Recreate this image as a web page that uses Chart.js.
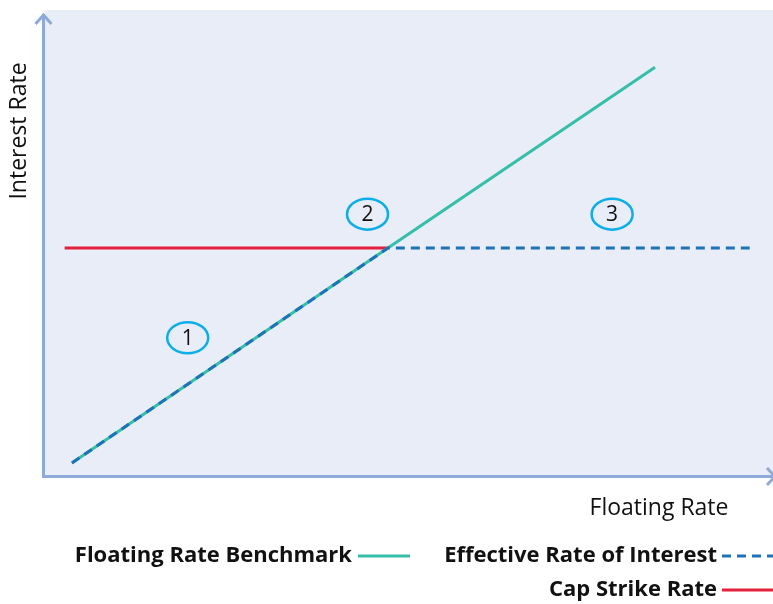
<!DOCTYPE html>
<html>
<head>
<meta charset="utf-8">
<script src="https://cdn.jsdelivr.net/npm/chart.js@4"></script>
<style>
  html, body { margin: 0; padding: 0; background: #ffffff; }
  #wrap { width: 773px; height: 604px; position: relative; }
</style>
</head>
<body>
<div id="wrap"><canvas id="c" width="773" height="604"></canvas></div>
<script>
// Floating rate (x) and interest rate (y), in arbitrary units 0..10
const benchmarkX = [0.37, 4.71, 8.38];
const benchmarkY = [0.26, 4.88, 8.77];
const effectiveX = [0.37, 4.71, 9.68];
const effectiveY = [0.26, 4.88, 4.88];
const capX = [0.27, 4.71];
const capY = [4.88, 4.88];

// Numbered region markers
const regionLabels = ['1', '2', '3'];
const regionX = [1.96, 4.43, 7.79];
const regionY = [2.95, 5.61, 5.61];

const seriesNames = ['Floating Rate Benchmark', 'Effective Rate of Interest', 'Cap Strike Rate'];
const xTitle = 'Floating Rate';
const yTitle = 'Interest Rate';

const TEAL = '#35bfa9';
const BLUE = '#1d72b8';
const RED = '#e5203b';
const AXIS = '#8eaadb';
const BG = '#e9edf7';
const FONT = '"Open Sans", "Noto Sans", sans-serif';

const pts = (xs, ys) => xs.map((x, i) => ({ x, y: ys[i] }));

const decor = {
  id: 'decor',
  beforeDraw(chart) {
    const { ctx, chartArea: a } = chart;
    ctx.save();
    ctx.fillStyle = BG;
    ctx.fillRect(a.left, a.top, a.right - a.left, a.bottom - a.top);
    ctx.restore();
  },
  afterDatasetsDraw(chart) {
    const { ctx, chartArea: a, scales } = chart;
    ctx.save();
    // axes with arrow heads
    ctx.strokeStyle = AXIS;
    ctx.lineWidth = 3;
    ctx.lineCap = 'butt';
    ctx.beginPath();
    ctx.moveTo(a.left - 1.5, a.bottom + 1.5);
    ctx.lineTo(a.left - 1.5, 14);
    ctx.moveTo(a.left - 3, a.bottom + 1.5);
    ctx.lineTo(a.right, a.bottom + 1.5);
    ctx.stroke();
    ctx.lineJoin = 'miter';
    ctx.beginPath();
    ctx.moveTo(a.left - 9.5, 24);
    ctx.lineTo(a.left - 1.5, 15);
    ctx.lineTo(a.left + 6.5, 24);
    ctx.stroke();
    ctx.beginPath();
    ctx.moveTo(a.right - 6, a.bottom - 7);
    ctx.lineTo(a.right + 2, a.bottom + 1.5);
    ctx.lineTo(a.right - 6, a.bottom + 10);
    ctx.stroke();

    // region markers
    ctx.textAlign = 'center';
    ctx.textBaseline = 'middle';
    regionLabels.forEach((t, i) => {
      const cx = scales.x.getPixelForValue(regionX[i]);
      const cy = scales.y.getPixelForValue(regionY[i]);
      ctx.beginPath();
      ctx.ellipse(cx, cy, 20.5, 15.5, 0, 0, Math.PI * 2);
      ctx.strokeStyle = '#0aaeea';
      ctx.lineWidth = 2.5;
      ctx.stroke();
      ctx.fillStyle = '#111111';
      ctx.font = '21px ' + FONT;
      ctx.fillText(t, cx, cy + 1);
    });

    // axis titles
    ctx.fillStyle = '#111111';
    ctx.font = '23px ' + FONT;
    ctx.textAlign = 'center';
    ctx.fillText(xTitle, 659, 508, 150);
    ctx.save();
    ctx.translate(19, 131);
    ctx.rotate(-Math.PI / 2);
    ctx.fillText(yTitle, 0, 0, 140);
    ctx.restore();

    // legend
    ctx.font = 'bold 22px ' + FONT;
    ctx.textAlign = 'right';
    ctx.fillText(seriesNames[0], 352, 556, 281);
    ctx.fillText(seriesNames[1], 717, 556, 281);
    ctx.fillText(seriesNames[2], 717, 590, 173);
    ctx.lineWidth = 3;
    ctx.strokeStyle = TEAL;
    ctx.beginPath(); ctx.moveTo(358, 556); ctx.lineTo(410, 556); ctx.stroke();
    ctx.strokeStyle = RED;
    ctx.beginPath(); ctx.moveTo(722, 590); ctx.lineTo(773, 590); ctx.stroke();
    ctx.strokeStyle = BLUE;
    ctx.setLineDash([9, 6]);
    ctx.beginPath(); ctx.moveTo(722, 556); ctx.lineTo(773, 556); ctx.stroke();
    ctx.restore();
  }
};

new Chart(document.getElementById('c'), {
  type: 'scatter',
  data: {
    datasets: [
      { label: seriesNames[2], data: pts(capX, capY), showLine: true, borderColor: RED, borderWidth: 3, pointRadius: 0, order: 3 },
      { label: seriesNames[0], data: pts(benchmarkX, benchmarkY), showLine: true, borderColor: TEAL, borderWidth: 3, pointRadius: 0, order: 2 },
      { label: seriesNames[1], data: pts(effectiveX, effectiveY), showLine: true, borderColor: BLUE, borderWidth: 3, borderDash: [9, 6], pointRadius: 0, order: 1 }
    ]
  },
  options: {
    responsive: false,
    animation: false,
    layout: { padding: { left: 45, right: 0, top: 10, bottom: 129 } },
    plugins: { legend: { display: false }, tooltip: { enabled: false } },
    scales: {
      x: { type: 'linear', min: 0, max: 10, display: false },
      y: { type: 'linear', min: 0, max: 10, display: false }
    }
  },
  plugins: [decor]
});
</script>
</body>
</html>
